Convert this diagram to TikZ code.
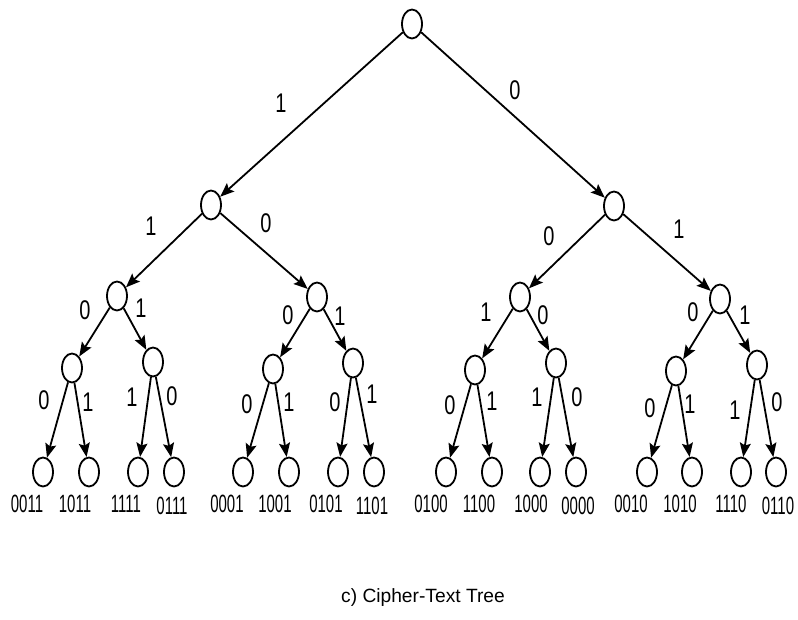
\documentclass[tikz,border=0pt]{standalone}
\usepackage{fontspec}
\setmainfont{Liberation Sans}
\usetikzlibrary{shapes.geometric,arrows.meta}
\begin{document}
\begin{tikzpicture}[x=1pt,y=-1pt,
  vertex/.style={draw,ellipse,line width=1.8pt,minimum width=20pt,minimum height=29pt,inner sep=0pt},
  edge/.style={line width=1.8pt,-{Stealth[length=14pt,width=11pt,inset=2.5pt]}},
  bit/.style={inner sep=0pt,font=\fontsize{27}{27}\selectfont},
  code/.style={inner sep=0pt,font=\fontsize{25}{25}\selectfont},
  caption/.style={inner sep=0pt,font=\fontsize{19.2}{19.2}\selectfont}]
\useasboundingbox (0,0) rectangle (798,619);
\newcommand{\nb}[1]{\scalebox{0.74}[1]{#1}}
\newcommand{\lc}[1]{\scalebox{0.6}[1]{#1}}

% tree vertices
\node[vertex] (r) at (412,24) {};
\node[vertex] (a) at (211,205) {};
\node[vertex] (b) at (614,206) {};
\node[vertex] (aa) at (117,296) {};
\node[vertex] (ab) at (317,297) {};
\node[vertex] (ba) at (520,297) {};
\node[vertex] (bb) at (720,299) {};
\node[vertex] (aaa) at (72,368) {};
\node[vertex] (aab) at (153,362) {};
\node[vertex] (aba) at (273,369) {};
\node[vertex] (abb) at (353,363) {};
\node[vertex] (baa) at (475,370) {};
\node[vertex] (bab) at (556,363) {};
\node[vertex] (bba) at (676,371) {};
\node[vertex] (bbb) at (757,365) {};
\foreach \n/\x in {l1/43,l2/89,l3/138,l4/174,l5/243,l6/289,l7/338,l8/374,
                   l9/446,l10/492,l11/540,l12/576,l13/647,l14/692,l15/741,l16/776}
  \node[vertex] (\n) at (\x,472) {};

% connectors
\draw[edge] (r) -- (a);
\draw[edge] (r) -- (b);
\draw[edge] (a) -- (aa);
\draw[edge] (a) -- (ab);
\draw[edge] (b) -- (ba);
\draw[edge] (b) -- (bb);
\draw[edge] (aa) -- (aaa);
\draw[edge] (aa) -- (aab);
\draw[edge] (ab) -- (aba);
\draw[edge] (ab) -- (abb);
\draw[edge] (ba) -- (baa);
\draw[edge] (ba) -- (bab);
\draw[edge] (bb) -- (bba);
\draw[edge] (bb) -- (bbb);
\draw[edge] (aaa) -- (l1);
\draw[edge] (aaa) -- (l2);
\draw[edge] (aab) -- (l3);
\draw[edge] (aab) -- (l4);
\draw[edge] (aba) -- (l5);
\draw[edge] (aba) -- (l6);
\draw[edge] (abb) -- (l7);
\draw[edge] (abb) -- (l8);
\draw[edge] (baa) -- (l9);
\draw[edge] (baa) -- (l10);
\draw[edge] (bab) -- (l11);
\draw[edge] (bab) -- (l12);
\draw[edge] (bba) -- (l13);
\draw[edge] (bba) -- (l14);
\draw[edge] (bbb) -- (l15);
\draw[edge] (bbb) -- (l16);

% branch bits
\foreach \n/\x/\y/\t in {
   e1/281/103/1, e2/515/90/0,
   e3/151/226/1, e4/266/223/0, e5/549/236/0, e6/679/229/1,
   e7/85/310/0, e8/141/308/1, e9/288/315/0, e10/340/316/1,
   e11/486/312/1, e12/543/315/0, e13/693/312/0, e14/745/315/1,
   e15/44/400/0, e16/88/402/1, e17/132/397/1, e18/172/396/0,
   e19/247/404/0, e20/289/402/1, e21/335/402/0, e22/372/394/1,
   e23/450/405/0, e24/492/401/1, e25/537/397/1, e26/577/397/0,
   e27/650/408/0, e28/690/404/1, e29/735/410/1, e30/777/402/0}
  \node[bit] (\n) at (\x,\y) {\nb{\t}};

% leaf codes
\foreach \n/\x/\y/\t in {
   c1/27/504/0011, c2/75/504/1011, c3/126/504/1111, c4/172/506/0111,
   c5/227/504/0001, c6/275/504/1001, c7/326/504/0101, c8/372/506/1101,
   c9/431/504/0100, c10/479/504/1100, c11/531/504/1000, c12/578/506/0000,
   c13/631/504/0010, c14/680/504/1010, c15/731/504/1110, c16/778/506/0110}
  \node[code] (\n) at (\x,\y) {\lc{\t}};

\node[caption] (cap) at (423,598) {c) Cipher-Text Tree};
\end{tikzpicture}
\end{document}
